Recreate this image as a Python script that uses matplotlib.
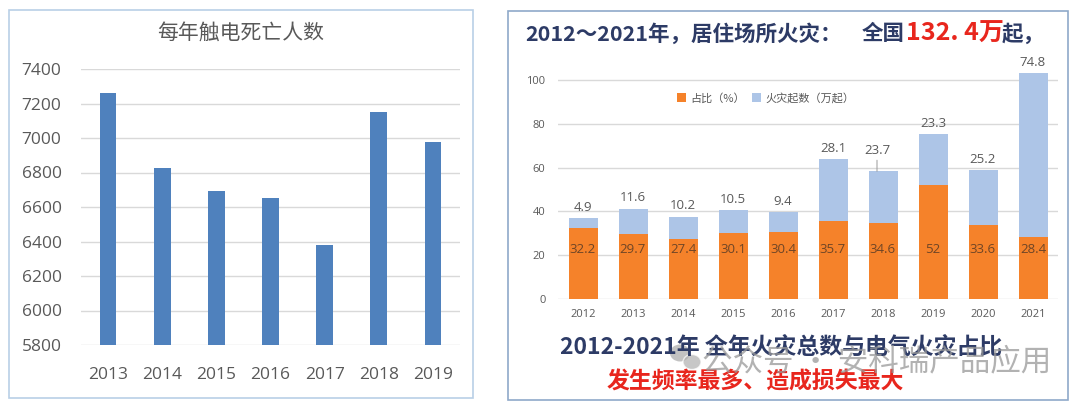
# Two panels: electric-shock deaths per year, and residential fires 2012-2021
import numpy as np
import matplotlib
matplotlib.use('Agg')
import matplotlib.pyplot as plt
from matplotlib.patches import Rectangle, Ellipse

plt.rcParams['font.family'] = ['Noto Sans CJK SC', 'DejaVu Sans']

# left chart data
shock_years = ['2013', '2014', '2015', '2016', '2017', '2018', '2019']
shock_deaths = [7260, 6825, 6695, 6650, 6380, 7150, 6975]
shock_ticks = [5800, 6000, 6200, 6400, 6600, 6800, 7000, 7200, 7400]

# right chart data
fire_years = ['2012', '2013', '2014', '2015', '2016', '2017', '2018', '2019', '2020', '2021']
share_pct = [32.2, 29.7, 27.4, 30.1, 30.4, 35.7, 34.6, 52, 33.6, 28.4]
fire_count = [4.9, 11.6, 10.2, 10.5, 9.4, 28.1, 23.7, 23.3, 25.2, 74.8]
fire_ticks = [0, 20, 40, 60, 80, 100]

W, H = 1080, 408
fig = plt.figure(figsize=(W / 100, H / 100), dpi=100)

def px_axes(x0, y0, x1, y1):
    # axes from pixel box (top-left origin)
    return fig.add_axes([x0 / W, 1 - y1 / H, (x1 - x0) / W, (y1 - y0) / H])

grid_c = '#d9d9d9'
tick_c = '#595959'

# ---------- left panel ----------
fig.add_artist(Rectangle((9 / W, 1 - 398 / H), 464 / W, 388 / H,
                         transform=fig.transFigure, fill=False,
                         edgecolor='#b9cfe6', linewidth=1.2))
ax1 = px_axes(81, 69, 460, 345)
x1 = np.arange(len(shock_years))
ax1.bar(x1, shock_deaths, width=0.31, color='#4f81bd', zorder=3)
ax1.set_ylim(5800, 7400)
ax1.set_xlim(-0.5, len(shock_years) - 0.5)
ax1.set_yticks(shock_ticks)
ax1.set_xticks(x1)
ax1.set_xticklabels(shock_years)
ax1.yaxis.grid(True, color=grid_c, linewidth=1, zorder=0)
for s in ax1.spines.values():
    s.set_visible(False)
ax1.tick_params(length=0, labelsize=12.5, colors=tick_c)
ax1.tick_params(axis='x', pad=16)
ax1.tick_params(axis='y', pad=14)
for lab in ax1.get_xticklabels() + ax1.get_yticklabels():
    lab.set_family(['Open Sans', 'DejaVu Sans'])
fig.text(241 / W, 1 - 33 / H, '每年触电死亡人数', ha='center', va='center',
         fontsize=15, color=tick_c)

# ---------- right panel ----------
fig.add_artist(Rectangle((508 / W, 1 - 400 / H), 560 / W, 389 / H,
                         transform=fig.transFigure, fill=False,
                         edgecolor='#8fa9c9', linewidth=1.2))
top_px = 299 - 110 * 2.19
ax2 = px_axes(558, top_px, 1058, 299)
x2 = np.arange(len(fire_years))
ax2.bar(x2, share_pct, width=0.58, color='#f5822a', zorder=3, label='占比（%）')
ax2.bar(x2, fire_count, width=0.58, bottom=share_pct, color='#adc5e7', zorder=3,
        label='火灾起数（万起）')
ax2.set_ylim(0, 110)
ax2.set_xlim(-0.5, len(fire_years) - 0.5)
ax2.set_yticks(fire_ticks)
ax2.set_xticks(x2)
ax2.set_xticklabels(fire_years)
ax2.yaxis.grid(True, color=grid_c, linewidth=1, zorder=0)
for s in ax2.spines.values():
    s.set_visible(False)
ax2.tick_params(length=0, labelsize=8, colors=tick_c)
ax2.tick_params(axis='y', pad=9)
ax2.tick_params(axis='x', pad=7)
for lab in ax2.get_xticklabels() + ax2.get_yticklabels():
    lab.set_family(['Open Sans', 'DejaVu Sans'])

for i in range(len(fire_years)):
    ax2.text(x2[i], 22.5, f'{share_pct[i]:g}', ha='center', va='center',
             fontsize=9.5, color='#6e4526', family=['Open Sans', 'DejaVu Sans'])
    top = share_pct[i] + fire_count[i]
    if fire_years[i] == '2018':
        ax2.annotate(f'{fire_count[i]:g}', xy=(x2[i] - 0.12, top), xytext=(0, 10),
                     textcoords='offset points', ha='center', va='bottom',
                     fontsize=9.5, color=tick_c, family=['Open Sans', 'DejaVu Sans'],
                     arrowprops=dict(arrowstyle='-', color='#9a9a9a', lw=0.7,
                                     shrinkA=0, shrinkB=0))
    else:
        ax2.annotate(f'{fire_count[i]:g}', xy=(x2[i], top), xytext=(0, 3),
                     textcoords='offset points', ha='center', va='bottom',
                     fontsize=9.5, color=tick_c, family=['Open Sans', 'DejaVu Sans'],
                     annotation_clip=False)

ax2.legend(loc='center', bbox_to_anchor=(0.415, (299 - 98) / (299 - top_px)),
           ncol=2, frameon=False, fontsize=8, handlelength=0.8, handleheight=0.8,
           handletextpad=0.4, columnspacing=0.6, labelcolor=tick_c)

navy = '#2d3b66'
red = '#e8261d'
fig.text(525 / W, 1 - 34 / H, '2012～2021年，居住场所火灾：', ha='left', va='center',
         fontsize=15.5, color=navy, fontweight='bold')
fig.text(862 / W, 1 - 34 / H, '全国', ha='left', va='center',
         fontsize=15.5, color=navy, fontweight='bold')
fig.text(906 / W, 1 - 34 / H, '132. 4万', ha='left', va='center',
         fontsize=18, color=red, fontweight='bold')
fig.text(1002 / W, 1 - 34 / H, '起，', ha='left', va='center',
         fontsize=15.5, color=navy, fontweight='bold')

fig.text(560 / W, 1 - 348 / H, '2012-2021年 全年火灾总数与电气火灾占比', ha='left',
         va='center', fontsize=16.5, color=navy, fontweight='bold')
fig.text(607 / W, 1 - 382 / H, '发生频率最多、造成损失最大', ha='left', va='center',
         fontsize=16.5, color=red, fontweight='bold')

# watermark with a small chat-bubble icon
fig.add_artist(Ellipse((680 / W, 1 - 353 / H), 20 / W, 17 / H, transform=fig.transFigure,
                       facecolor='#9a9a9a', edgecolor='none', alpha=0.6))
fig.add_artist(Ellipse((692 / W, 1 - 362 / H), 18 / W, 15 / H, transform=fig.transFigure,
                       facecolor='#b0b0b0', edgecolor='white', linewidth=1, alpha=0.7))
fig.text(702 / W, 1 - 362 / H, '公众号 · 安科瑞产品应用', ha='left', va='center',
         fontsize=22, color='#999999', alpha=0.75, fontweight='light')

fig.savefig('out.png', dpi=100)
